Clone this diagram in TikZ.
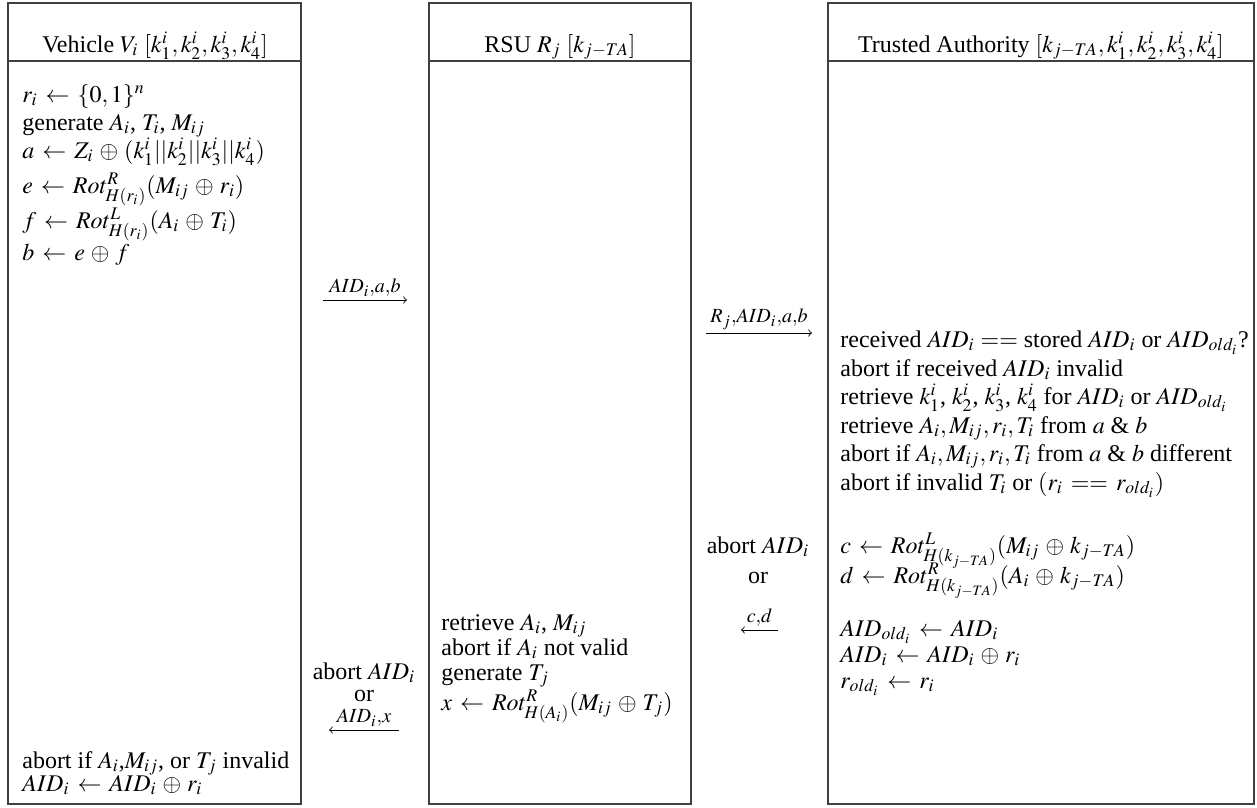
\documentclass[tikz,border=0pt]{standalone}
\usepackage{amsmath,amssymb}
\usepackage{mathptmx}
\usepackage[no-math]{fontspec}
\setmainfont{Liberation Serif}
\usepackage{tikz}
\usetikzlibrary{arrows,positioning}

\thickmuskip=6mu plus 3mu
\medmuskip=4.5mu plus 2mu minus 2mu

\tikzset{
  colbox/.style={draw=black!75, line width=0.6pt},
  headtext/.style={inner sep=0pt, anchor=base},
  stepline/.style={inner sep=0pt, anchor=base west},
  msg/.style={above, inner sep=1.5pt, font=\fontsize{13pt}{14pt}\selectfont},
  msgline/.style={->, >=to, line width=0.4pt},
  ortext/.style={inner sep=0pt, anchor=base},
}

\begin{document}
\begin{tikzpicture}[x=0.48pt, y=-0.48pt, font=\fontsize{11.5pt}{12.5pt}\selectfont]
    \useasboundingbox (0,0) rectangle (1257,807);

    % Vehicle
    \draw[colbox] (8,3) rectangle (301,804);
    \draw[colbox] (8,61) -- (301,61);
    \node[headtext] (vhead) at (155,52) {Vehicle $V_i$ $[k_1^i, k_2^i, k_3^i, k_4^i]$};

    \node[stepline] (v1) at (22,102) {$r_i \leftarrow \{0,1\}^n$};
    \node[stepline] (v2) at (22,130) {generate $A_i$, $T_i$, $M_{ij}$};
    \node[stepline] (v3) at (22,158) {$a \leftarrow Z_i \oplus (k_1^i||k_2^i||k_3^i||k_4^i)$};
    \node[stepline] (v4) at (22,193) {$e \leftarrow Rot^R_{H(r_i)}(M_{ij} \oplus r_i)$};
    \node[stepline] (v5) at (22,228) {$f \leftarrow Rot^L_{H(r_i)}(A_i \oplus T_i)$};
    \node[stepline] (v6) at (22,260) {$b \leftarrow e \oplus f$};

    \node[stepline] (v7) at (22,768) {abort if $A_i$,$M_{ij}$, or $T_j$ invalid};
    \node[stepline] (v8) at (22,791) {$AID_i \leftarrow AID_i \oplus r_i$};

    % RSU
    \draw[colbox] (429,3) rectangle (691,804);
    \draw[colbox] (429,61) -- (691,61);
    \node[headtext] (rhead) at (560,52) {RSU $R_j$ $[k_{j-TA}]$};

    \node[stepline] (r1) at (441,630) {retrieve $A_i$, $M_{ij}$};
    \node[stepline] (r2) at (441,655) {abort if $A_i$ not valid};
    \node[stepline] (r3) at (441,680) {generate $T_j$};
    \node[stepline] (r4) at (441,710) {$x \leftarrow Rot^R_{H(A_i)}(M_{ij} \oplus T_j)$};

    % Trusted Authority
    \draw[colbox] (828,3) rectangle (1254,804);
    \draw[colbox] (828,61) -- (1254,61);
    \node[headtext] (thead) at (1041,52) {Trusted Authority $[k_{j-TA}, k_1^i, k_2^i, k_3^i, k_4^i]$};

    \node[stepline] (t1) at (840,347) {received $AID_i$ $==$ stored $AID_i$ or $AID_{old_i}$?};
    \node[stepline] (t2) at (840,376) {abort if received $AID_i$ invalid};
    \node[stepline] (t3) at (840,404) {retrieve $k_1^i$, $k_2^i$, $k_3^i$, $k_4^i$ for $AID_i$ or $AID_{old_i}$};
    \node[stepline] (t4) at (840,433) {retrieve $A_i, M_{ij}, r_i, T_i$ from $a$ \& $b$};
    \node[stepline] (t5) at (840,461) {abort if $A_i, M_{ij}, r_i, T_i$ from $a$ \& $b$ different};
    \node[stepline] (t6) at (840,490) {abort if invalid $T_i$ or $(r_i == r_{old_i})$};

    \node[stepline] (t7) at (840,553) {$c \leftarrow Rot^L_{H(k_{j-TA})}(M_{ij} \oplus k_{j-TA})$};
    \node[stepline] (t8) at (840,583) {$d \leftarrow Rot^R_{H(k_{j-TA})}(A_i \oplus k_{j-TA})$};
    \node[stepline] (t9) at (840,636) {$AID_{old_i} \leftarrow AID_i$};
    \node[stepline] (t10) at (840,662) {$AID_i \leftarrow AID_i \oplus r_i$};
    \node[stepline] (t11) at (840,688) {$r_{old_i} \leftarrow r_i$};

    % messages
    \coordinate (m1a) at (323,300);
    \coordinate (m1b) at (407,300);
    \draw[msgline] (m1a) -- node[msg] (m1) {$\scriptstyle AID_i,a,b$} (m1b);

    \coordinate (m2a) at (706,333);
    \coordinate (m2b) at (812,333);
    \draw[msgline] (m2a) -- node[msg] (m2) {$\scriptstyle R_j,AID_i,a,b$} (m2b);

    \node[ortext] (tabort) at (758,553) {abort $AID_i$};
    \node[ortext] (tor) at (758,583) {or};
    \coordinate (m3a) at (778,630);
    \coordinate (m3b) at (741,630);
    \draw[msgline] (m3a) -- node[msg] (m3) {$\scriptstyle c,d$} (m3b);

    \node[ortext] (rabort) at (364,679) {abort $AID_i$};
    \node[ortext] (ror) at (364,701) {or};
    \coordinate (m4a) at (399,730);
    \coordinate (m4b) at (329,730);
    \draw[msgline] (m4a) -- node[msg] (m4) {$\scriptstyle AID_i,x$} (m4b);
\end{tikzpicture}
\end{document}
